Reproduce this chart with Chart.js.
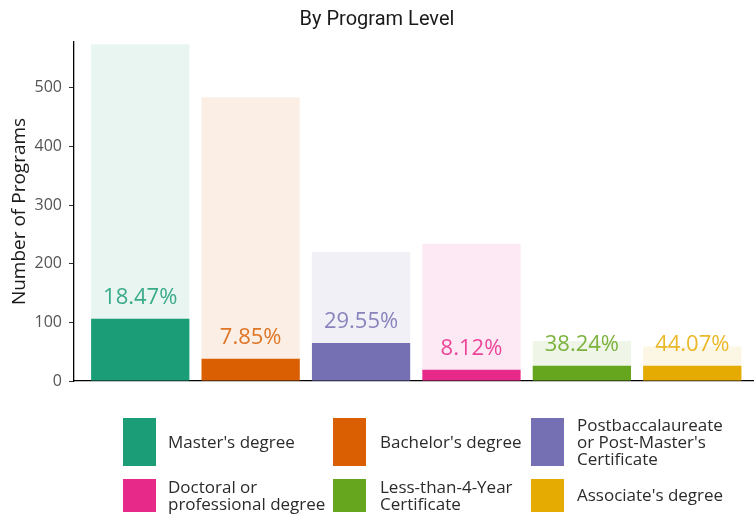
<!DOCTYPE html>
<html>
<head>
<meta charset="utf-8">
<script src="https://cdn.jsdelivr.net/npm/chart.js@4.4.1/dist/chart.umd.min.js"></script>
<style>
  body { margin: 0; background: #fff; }
  #wrap { width: 754px; height: 516px; position: relative; }
</style>
</head>
<body>
<div id="wrap"><canvas id="level-chart"></canvas></div>
<script>
// categories (line breaks are how the legend wraps them)
const categories = [
    "Master's degree",
    "Bachelor's degree",
    "Postbaccalaureate\nor Post-Master's\nCertificate",
    "Doctoral or\nprofessional degree",
    "Less-than-4-Year\nCertificate",
    "Associate's degree"
];
const totalPrograms = [574, 484, 220, 234, 68, 59];
const subsetPrograms = [106, 38, 65, 19, 26, 26];
const yTicks = [0, 100, 200, 300, 400, 500];

const palette = ['#1B9E77', '#D95F02', '#7570B3', '#E7298A', '#66A61E', '#E6AB02'];
const FONT = "'Open Sans', sans-serif";

const withAlpha = (hex, a) => {
    const n = parseInt(hex.slice(1), 16);
    return `rgba(${(n >> 16) & 255}, ${(n >> 8) & 255}, ${n & 255}, ${a})`;
};

// percentage text above each dark bar
const percentLabels = {
    id: 'percentLabels',
    afterDatasetsDraw(chart) {
        const meta = chart.getDatasetMeta(1);
        const ctx = chart.ctx;
        ctx.save();
        ctx.font = `22px ${FONT}`;
        ctx.textAlign = 'center';
        ctx.textBaseline = 'alphabetic';
        meta.data.forEach((bar, i) => {
            const pct = (subsetPrograms[i] / totalPrograms[i] * 100).toFixed(2) + '%';
            ctx.fillStyle = withAlpha(palette[i], 0.85);
            ctx.fillText(pct, bar.x, bar.y - 15);
        });
        ctx.restore();
    }
};

// three-column legend under the plot
const gridLegend = {
    id: 'gridLegend',
    afterDraw(chart) {
        const ctx = chart.ctx;
        const swatchX = [123, 333, 531];
        const textX = [168, 380, 577];
        const rows = [{ top: 418, h: 48 }, { top: 479, h: 33 }];
        ctx.save();
        ctx.font = `17px ${FONT}`;
        ctx.textAlign = 'left';
        ctx.textBaseline = 'middle';
        categories.forEach((name, i) => {
            const col = i % 3, row = rows[Math.floor(i / 3)];
            ctx.fillStyle = palette[i];
            ctx.fillRect(swatchX[col], row.top, 33, row.h);
            const lines = name.split('\n');
            const mid = row.top + row.h / 2 + 1;
            ctx.fillStyle = '#2b2b2b';
            lines.forEach((ln, k) => {
                ctx.fillText(ln, textX[col], mid + (k - (lines.length - 1) / 2) * 17);
            });
        });
        ctx.restore();
    }
};

const ctx = document.getElementById('level-chart').getContext('2d');

new Chart(ctx, {
    type: 'bar',
    data: {
        datasets: [{
            label: 'All programs',
            data: totalPrograms.map((v, i) => ({ x: i, y: v })),
            backgroundColor: palette.map(c => withAlpha(c, 0.1)),
            order: 2
        }, {
            label: 'Subset',
            data: subsetPrograms.map((v, i) => ({ x: i, y: v })),
            backgroundColor: palette,
            order: 1
        }]
    },
    options: {
        responsive: true,
        maintainAspectRatio: false,
        animation: false,
        layout: { padding: 0 },
        datasets: {
            bar: {
                grouped: false,
                categoryPercentage: 0.89,
                barPercentage: 1,
                borderWidth: 0
            }
        },
        plugins: {
            legend: { display: false },
            tooltip: { enabled: false },
            title: {
                display: true,
                text: 'By Program Level',
                color: '#1a1a1a',
                font: { family: 'Roboto', size: 20, weight: 'normal' },
                padding: { top: 8, bottom: 10 }
            }
        },
        scales: {
            x: {
                type: 'linear',
                offset: false,
                min: -0.6,
                max: 5.559,
                afterBuildTicks(scale) { scale.ticks = categories.map((c, i) => ({ value: i })); },
                ticks: { display: false },
                grid: { display: false },
                border: { display: true, color: '#000', width: 1.3 },
                afterFit(scale) { scale.height = 135; }
            },
            y: {
                min: 0,
                max: 578,
                afterBuildTicks(scale) { scale.ticks = yTicks.map(v => ({ value: v })); },
                ticks: {
                    color: '#555',
                    font: { family: FONT, size: 16 },
                    padding: 7
                },
                grid: {
                    drawOnChartArea: false,
                    drawTicks: true,
                    tickLength: 5,
                    color: '#333'
                },
                border: { display: true, color: '#000', width: 1.3 },
                title: {
                    display: true,
                    text: 'Number of Programs',
                    color: '#1a1a1a',
                    font: { family: FONT, size: 19 },
                    padding: { top: 8, bottom: 0 }
                },
                afterFit(scale) { scale.width = 74; }
            }
        }
    },
    plugins: [percentLabels, gridLegend]
});
</script>
</body>
</html>
